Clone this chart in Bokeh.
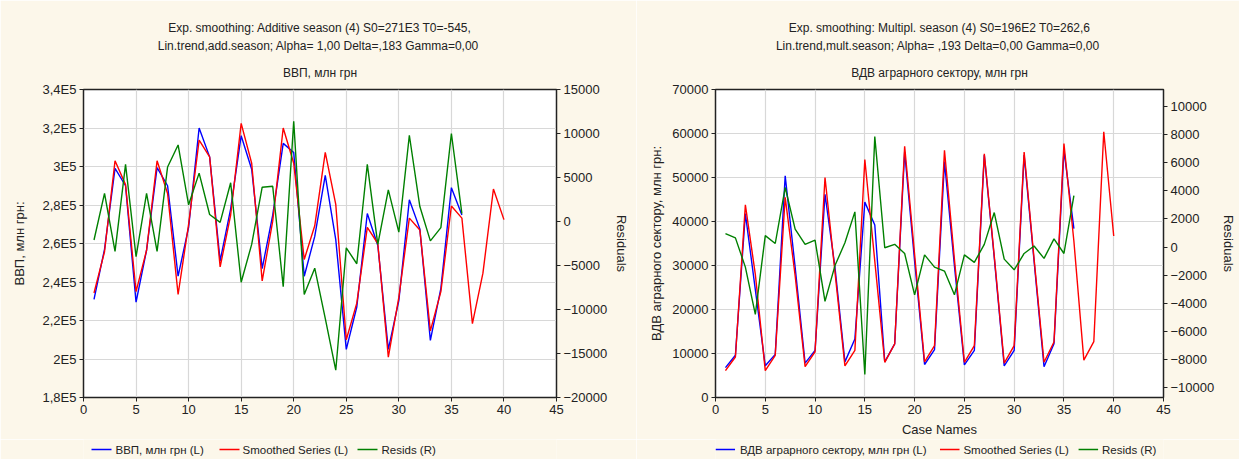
from bokeh.plotting import figure
from bokeh.models import Range1d, LinearAxis, FixedTicker, Title
from bokeh.layouts import row, column
from bokeh.core.properties import value
from bokeh.embed import file_html
from bokeh.resources import INLINE

# ---------------- data ----------------
case_obs = list(range(1, 37))
case_all = list(range(1, 41))

gdp_actual = [231000, 257000, 299000, 290000, 229500, 256500, 299400, 290000,
              243000, 268400, 320000, 305000, 251000, 278000, 316000, 298600,
              247000, 274800, 312000, 307300, 243000, 263700, 295400, 262000,
              205000, 227000, 275600, 259000, 205000, 230300, 282700, 267600,
              209700, 236700, 289000, 274800]
gdp_smoothed = [234300, 255700, 303000, 290600, 235000, 256500, 303000, 286000,
                233500, 270000, 313700, 305000, 247800, 274800, 322400, 301700,
                240600, 271600, 320000, 301700, 251700, 269200, 307300, 280300,
                210000, 229000, 268400, 260000, 201000, 232000, 273200, 267000,
                214600, 235000, 279500, 273200, 218400, 244600, 288300, 272400]
gdp_resid = [-2100, 3200, -3400, 6500, -4000, 3200, -3400, 6200, 8700, 1900,
             5500, 800, -100, 4400, -6900, -2600, 3900, 4000, -7400, 11400,
             -8300, -5300, -11000, -16900, -3000, -4800, 6500, -2600, 3600,
             -1200, 9800, 1700, -2200, -700, 10000, 900]

agr_actual = [6800, 9600, 41800, 24500, 7200, 9800, 50400, 29600, 7800, 10700,
              46200, 29600, 8100, 13300, 44400, 39200, 8100, 12200, 55800, 31000,
              7500, 10900, 53600, 29900, 7400, 10700, 55100, 31800, 7200, 10700,
              55100, 31000, 7000, 12200, 56200, 38400]
agr_smoothed = [6100, 9200, 43800, 28000, 6100, 9600, 45500, 27700, 7000, 10400,
                50000, 28500, 7200, 10700, 54100, 31000, 8000, 12200, 57100, 32500,
                8100, 11800, 56200, 31400, 8000, 11800, 55400, 32200, 7800, 11800,
                55800, 31500, 8000, 12600, 57700, 35500, 8500, 12700, 60400, 36700]
agr_resid = [950, 650, -1430, -4790, 810, 250, 4230, 1270, 190, 490, -3860,
             -1320, 300, 2500, -9060, 7860, -50, 190, -460, -3400, -560, -1430,
             -1710, -3400, -560, -1090, 190, 2450, -860, -1620, -460, 70, -810,
             580, -460, 3650]

x_ticks = [0, 5, 10, 15, 20, 25, 30, 35, 40, 45]
gdp_ticks = [180000, 200000, 220000, 240000, 260000, 280000, 300000, 320000, 340000]
gdp_tick_labels = ["1,8E5", "2E5", "2,2E5", "2,4E5", "2,6E5", "2,8E5", "3E5", "3,2E5", "3,4E5"]
gdp_res_ticks = [-20000, -15000, -10000, -5000, 0, 5000, 10000, 15000]
agr_ticks = [0, 10000, 20000, 30000, 40000, 50000, 60000, 70000]
agr_res_ticks = [-10000, -8000, -6000, -4000, -2000, 0, 2000, 4000, 6000, 8000, 10000]

titles_left = ["Exp. smoothing: Additive season (4) S0=271E3 T0=-545,",
               "Lin.trend,add.season; Alpha=  1,00 Delta=,183 Gamma=0,00",
               "ВВП, млн грн"]
titles_right = ["Exp. smoothing: Multipl. season (4) S0=196E2 T0=262,6",
                "Lin.trend,mult.season; Alpha=  ,193 Delta=0,00 Gamma=0,00",
                "ВДВ аграрного сектору, млн грн"]
legend_left = ["ВВП, млн грн (L)", "Smoothed Series (L)", "Resids (R)"]
legend_right = ["ВДВ аграрного сектору, млн грн (L)", "Smoothed Series (L)", "Resids (R)"]
series_colors = ["#0000FF", "#FF0000", "#008000"]

FONT = "Liberation Sans"
CREAM = "#FCF7EA"
TXT = "#222222"
H_MAIN = 439
H_LEG = 20


def style_axis(ax, size="13px"):
    ax.major_label_text_font = FONT
    ax.major_label_text_font_size = size
    ax.major_label_text_color = TXT
    ax.major_label_standoff = 3
    ax.axis_label_text_font = FONT
    ax.axis_label_text_font_size = "13px"
    ax.axis_label_text_font_style = "normal"
    ax.axis_label_text_color = TXT
    ax.axis_label_standoff = 5
    ax.axis_line_color = "#222222"
    ax.major_tick_line_color = "#222222"
    ax.major_tick_out = 4
    ax.major_tick_in = 0
    ax.minor_tick_line_color = None


def make_panel(width, ml, mr, yr, yticks, ylabels, ylabel, ylab_standoff,
               rr, rticks, xlabel, titles, actual, smoothed, resid):
    p = figure(width=width, height=H_MAIN, x_range=Range1d(0, 45),
               y_range=Range1d(*yr), output_backend="svg", toolbar_location=None,
               min_border_left=ml, min_border_right=mr, min_border_top=89,
               min_border_bottom=42)
    p.background_fill_color = "white"
    p.border_fill_color = CREAM
    p.outline_line_color = "#222222"
    p.outline_line_width = 1.5

    p.title.text = titles[0]
    p.title.align = "center"
    p.title.text_font = FONT
    p.title.text_font_size = "12px"
    p.title.text_font_style = "normal"
    p.title.text_color = TXT
    p.title.standoff = 2
    p.add_layout(Title(text=titles[2], align="center", text_font=FONT,
                       text_font_size="12px", text_font_style="normal",
                       text_color=TXT, standoff=19), "above")
    p.add_layout(Title(text=titles[1], align="center", text_font=FONT,
                       text_font_size="12px", text_font_style="normal",
                       text_color=TXT, standoff=3), "above")

    p.xaxis.ticker = FixedTicker(ticks=x_ticks)
    if xlabel:
        p.xaxis.axis_label = xlabel
    p.yaxis.ticker = FixedTicker(ticks=yticks)
    if ylabels is not None:
        p.yaxis.major_label_overrides = {v: l for v, l in zip(yticks, ylabels)}
    p.yaxis.axis_label = ylabel
    style_axis(p.xaxis[0])
    style_axis(p.yaxis[0])
    p.yaxis[0].axis_label_standoff = ylab_standoff

    p.xgrid.ticker = FixedTicker(ticks=x_ticks)
    p.ygrid.ticker = FixedTicker(ticks=yticks)
    p.xgrid.grid_line_color = "#d8d8d8"
    p.ygrid.grid_line_color = "#d8d8d8"
    p.xgrid.grid_line_width = 1.2
    p.ygrid.grid_line_width = 1.2

    p.extra_y_ranges = {"res": Range1d(*rr)}
    rax = LinearAxis(y_range_name="res", axis_label="Residuals",
                     ticker=FixedTicker(ticks=rticks))
    style_axis(rax)
    rax.axis_label_standoff = 4
    p.add_layout(rax, "right")

    p.line(case_obs, actual, line_color=series_colors[0], line_width=1.4)
    p.line(case_all, smoothed, line_color=series_colors[1], line_width=1.4)
    p.line(case_obs, resid, line_color=series_colors[2], line_width=1.4,
           y_range_name="res")
    return p


def make_legend(width, ml, mr, labels, sw_x, tx_x):
    fw = width - ml - mr
    lg = figure(width=width, height=H_LEG, x_range=Range1d(0, fw),
                y_range=Range1d(0, 1), output_backend="svg",
                toolbar_location=None, min_border_left=ml, min_border_right=mr,
                min_border_top=0, min_border_bottom=0)
    lg.axis.visible = False
    lg.grid.visible = False
    lg.outline_line_color = None
    lg.background_fill_color = CREAM
    lg.border_fill_color = CREAM
    for col, sx in zip(series_colors, sw_x):
        lg.line([sx, sx + 20], [0.5, 0.5], line_color=col, line_width=1.4)
    lg.text(x=tx_x, y=[0.5] * len(labels), text=labels,
            text_font=value(FONT), text_font_size=value("11.5px"),
            text_color=TXT, text_baseline="middle", text_align="left")
    return lg


LW, LML, LMR = 636, 83, 80
RW, RML, RMR = 603, 79, 65

left = make_panel(LW, LML, LMR, (180000, 340000), gdp_ticks, gdp_tick_labels,
                  "ВВП, млн грн:", 13, (-20000, 15000), gdp_res_ticks, None,
                  titles_left, gdp_actual, gdp_smoothed, gdp_resid)
right = make_panel(RW, RML, RMR, (0, 70000), agr_ticks, None,
                   "ВДВ аграрного сектору, млн грн:", 5, (-10700, 11200),
                   agr_res_ticks, "Case Names", titles_right, agr_actual,
                   agr_smoothed, agr_resid)
left_leg = make_legend(LW, LML, LMR, legend_left, [8, 136, 274], [32, 159, 298])
right_leg = make_legend(RW, RML, RMR, legend_right, [0, 230, 372], [25, 254, 396])

layout = row(column(left, left_leg), column(right, right_leg))
open("out.html", "w").write(file_html(layout, INLINE))
